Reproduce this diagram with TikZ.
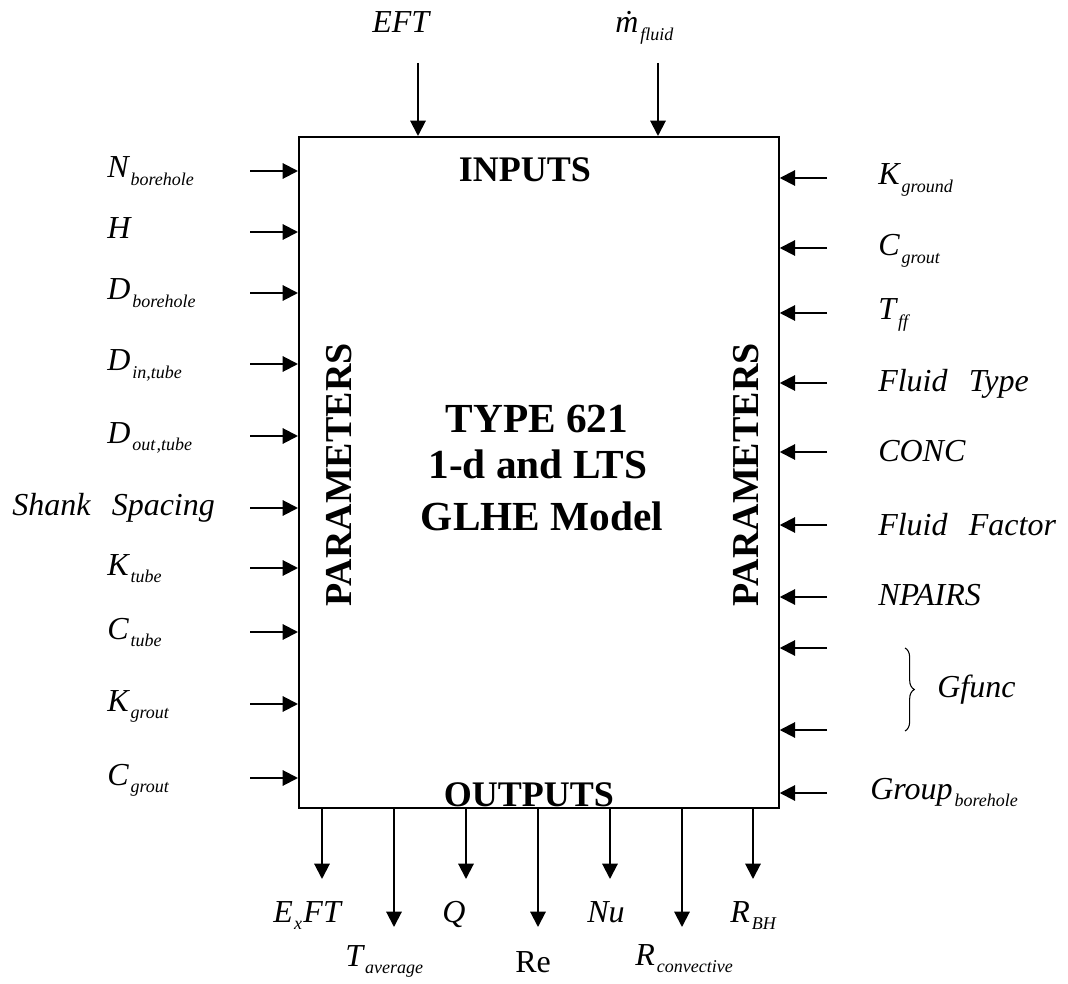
\documentclass[tikz,border=0pt]{standalone}
\usepackage{fontspec}
\setmainfont{Liberation Serif}
\usetikzlibrary{arrows.meta,decorations.pathreplacing}
\newcommand{\sbx}[2]{#1\kern1.5pt\raisebox{-5.5pt}{\fontsize{13.5}{14}\selectfont #2}}
\begin{document}
\begin{tikzpicture}[x=0.75pt,y=-0.75pt,
  arr/.style={line width=1.5pt,-{Triangle[length=11.5pt,width=11.5pt]}},
  lbl/.style={anchor=base west,inner sep=0pt,font=\fontsize{24}{26}\selectfont\itshape},
  hdr/.style={anchor=base,inner sep=0pt,font=\fontsize{27}{30}\selectfont\bfseries},
  ttl/.style={anchor=base,inner sep=0pt,font=\fontsize{31}{34}\selectfont\bfseries},
  par/.style={inner sep=0pt,rotate=90,font=\fontsize{28.5}{30}\selectfont\bfseries}]
\useasboundingbox (0,0) rectangle (1068,984);
\node[draw,line width=1.3pt,minimum width=360pt,minimum height=503.25pt,inner sep=0pt,anchor=north west] (box) at (298,136) {};
% headers
\node[hdr] (inputs) at (525,182) {INPUTS};
\node[hdr] (outputs) at (529,806) {OUTPUTS};
\node[ttl] (t1) at (537,432) {TYPE 621};
\node[ttl] (t2) at (538,478) {1-d and LTS};
\node[ttl] (t3) at (542,530) {GLHE Model};
\node[par] (parL) at (339,475) {PARAMETERS};
\node[par] (parR) at (746,475) {PARAMETERS};
% left inputs
\foreach \n/\y/\xx/\t in {
  a/171/107/{\sbx{N}{borehole}},
  b/232/107/{H},
  c/293/107/{\sbx{D}{borehole}},
  d/364/107/{\sbx{D}{in,tube}},
  e/436/107/{\sbx{D}{out\kern1pt,tube}},
  f/508/12/{Shank\hspace{16pt}Spacing},
  g/568/107/{\sbx{K}{tube}},
  h/632/107/{\sbx{C}{tube}},
  i/704/107/{\sbx{K}{grout}},
  j/778/107/{\sbx{C}{grout}}}{
  \node[lbl] (L\n) at (\xx,\y+7) {\t};
  \coordinate (LA\n) at (250,\y);
  \draw[arr] (LA\n) -- (LA\n -| box.west);
}
% right inputs
\foreach \n/\y/\yb/\xx/\t in {
  a/178/185/878/{\sbx{K}{ground}},
  b/248/256/878/{\sbx{C}{grout}},
  c/313/320/878/{\sbx{T}{ff}},
  d/383/392/878/{Fluid\hspace{16pt}Type},
  e/452/461/878/{CONC},
  f/525/535/878/{Fluid\hspace{16pt}Factor},
  g/597/605/878/{NPAIRS},
  i/793/799/870/{\sbx{Group}{borehole}}}{
  \node[lbl] (R\n) at (\xx,\yb) {\t};
  \coordinate (RA\n) at (827,\y);
  \draw[arr] (RA\n) -- (RA\n -| box.east);
}
\coordinate (RAh1) at (827,648);
\coordinate (RAh2) at (827,730);
\draw[arr] (RAh1) -- (RAh1 -| box.east);
\draw[arr] (RAh2) -- (RAh2 -| box.east);
\coordinate (brT) at (905,648);
\coordinate (brB) at (905,731);
\draw[line width=0.8pt,decorate,decoration={brace,amplitude=7pt}] (brT) -- (brB);
\node[lbl] (gfunc) at (937,697) {Gfunc};
% top inputs
\node[lbl] (eft) at (372,33) {EFT};
\node[lbl] (mdot) at (615,33) {\sbx{\.{m}}{fluid}};
\coordinate (TA1) at (418,63);
\coordinate (TA2) at (658,63);
\draw[arr] (TA1) -- (TA1 |- box.north);
\draw[arr] (TA2) -- (TA2 |- box.north);
% outputs
\foreach \n/\x/\ye in {a/322/879,b/394/927,c/466/879,d/538/927,e/610/879,f/682/927,g/753/879}{
  \coordinate (OE\n) at (\x,\ye);
  \draw[arr] (OE\n |- box.south) -- (OE\n);
}
\node[lbl] (oa) at (273,922) {E\kern1pt\raisebox{-5.5pt}{\fontsize{13.5}{14}\selectfont x}\kern1pt FT};
\node[lbl] (ob) at (345,966) {\sbx{T}{average}};
\node[lbl] (oc) at (442,922) {Q};
\node[lbl,font=\fontsize{24}{26}\selectfont\upshape] (od) at (515,972) {Re};
\node[lbl] (oe) at (587,922) {Nu};
\node[lbl] (of) at (635,965) {\sbx{R}{convective}};
\node[lbl] (og) at (730,922) {\sbx{R}{BH}};
\end{tikzpicture}
\end{document}
